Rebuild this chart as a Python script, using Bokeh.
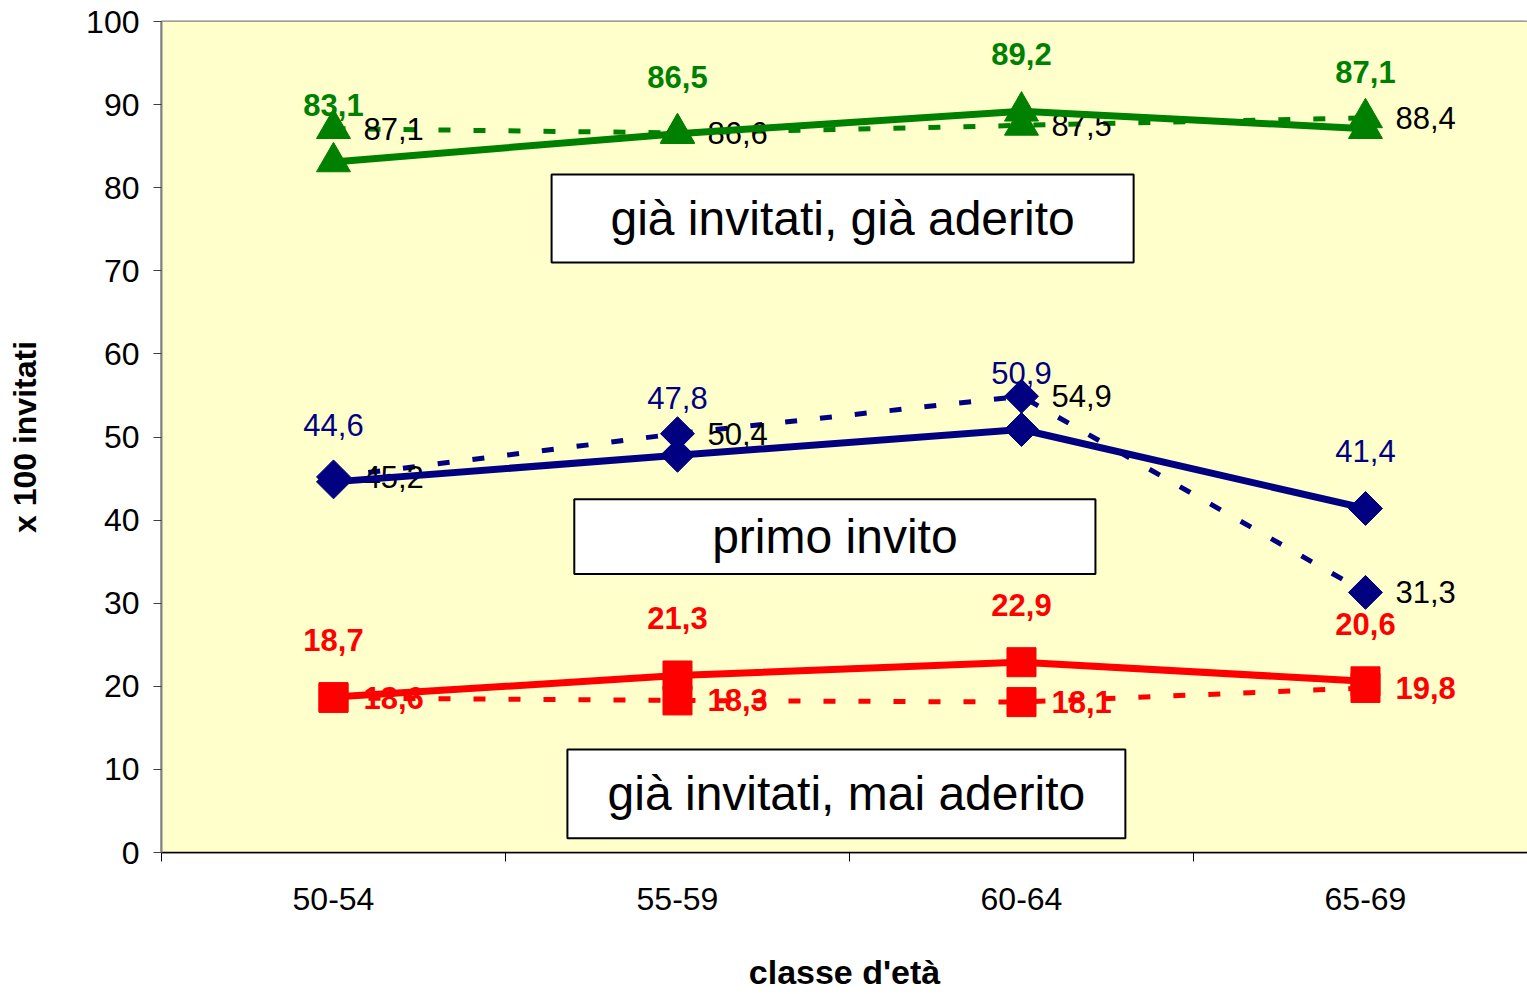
import math
from bokeh.plotting import figure
from bokeh.models import Range1d, FixedTicker, BoxAnnotation, Label, ColumnDataSource
from bokeh.core.properties import value
from bokeh.embed import file_html
from bokeh.resources import INLINE

categories = ["50-54", "55-59", "60-64", "65-69"]
green_solid = [83.1, 86.5, 89.2, 87.1]
green_dash = [87.1, 86.6, 87.5, 88.4]
blue_solid = [44.6, 47.8, 50.9, 41.4]
blue_dash = [45.2, 50.4, 54.9, 31.3]
red_solid = [18.7, 21.3, 22.9, 20.6]
red_dash = [18.6, 18.3, 18.1, 19.8]
y_ticks = [0, 10, 20, 30, 40, 50, 60, 70, 80, 90, 100]

FONT = "Liberation Sans"
GREEN = "#008000"
NAVY = "#000080"
RED = "#FF0000"

xs = list(range(len(categories)))
XMAX = 3.471

p = figure(width=1527, height=994, output_backend="svg", toolbar_location=None,
           x_range=Range1d(-0.5, XMAX), y_range=Range1d(0, 100),
           min_border_left=161, min_border_right=0, min_border_top=21, min_border_bottom=142)
p.background_fill_color = "white"
p.border_fill_color = "white"
p.outline_line_color = "#808080"
p.outline_line_width = 2

# backdrop
p.add_layout(BoxAnnotation(left=-0.5, right=XMAX, bottom=0, top=100,
                           fill_color="#FFFFCC", fill_alpha=1.0, line_color=None, level="underlay"))

p.xgrid.visible = False
p.ygrid.ticker = FixedTicker(ticks=y_ticks)
p.ygrid.grid_line_color = "black"
p.ygrid.grid_line_width = 1
p.ygrid.level = "underlay"

# axes
xa = p.xaxis[0]
xa.ticker = FixedTicker(ticks=xs, minor_ticks=[-0.5, 0.5, 1.5, 2.5])
xa.major_label_overrides = {i: c for i, c in enumerate(categories)}
xa.major_tick_line_color = None
xa.minor_tick_out = 9
xa.minor_tick_in = 0
xa.minor_tick_line_color = "black"
xa.axis_line_color = "black"
xa.axis_line_width = 1.5
xa.major_label_text_font = FONT
xa.major_label_text_font_size = "32px"
xa.major_label_text_color = "black"
xa.major_label_standoff = 26
xa.axis_label = "classe d'età"
xa.axis_label_text_font = FONT
xa.axis_label_text_font_size = "34px"
xa.axis_label_text_font_style = "bold"
xa.axis_label_text_color = "black"
xa.axis_label_standoff = 40

ya = p.yaxis[0]
ya.ticker = FixedTicker(ticks=y_ticks)
ya.axis_line_color = "#808080"
ya.axis_line_width = 2
ya.major_tick_out = 8
ya.major_tick_in = 0
ya.major_tick_line_color = "#404040"
ya.minor_tick_line_color = None
ya.major_label_text_font = FONT
ya.major_label_text_font_size = "32px"
ya.major_label_text_color = "black"
ya.major_label_standoff = 14
ya.axis_label = "x 100 invitati"
ya.axis_label_text_font = FONT
ya.axis_label_text_font_size = "32px"
ya.axis_label_text_font_style = "bold"
ya.axis_label_text_color = "black"
ya.axis_label_standoff = 40


def fmt(v):
    return f"{v:.1f}".replace(".", ",")

# annotation boxes
boxes = [
    (0.634, 2.326, 71.0, 81.6, "già invitati, già aderito"),
    (0.700, 2.215, 33.5, 42.5, "primo invito"),
    (0.680, 2.302, 1.7, 12.4, "già invitati, mai aderito"),
]
for l, r, b, t, txt in boxes:
    p.add_layout(BoxAnnotation(left=l, right=r, bottom=b, top=t, fill_color="white",
                               fill_alpha=1.0, line_color="black", line_alpha=1.0,
                               line_width=2, level="annotation"))
    p.add_layout(Label(x=(l + r) / 2, y=(b + t) / 2, text=txt, text_align="center",
                       text_baseline="middle", text_font=FONT, text_font_size="48px",
                       text_color="black", level="annotation"))

series = [
    (green_dash, GREEN, "dash", "triangle", 34, 0.0, "black", "normal"),
    (blue_dash, NAVY, "dash", "square", 24, math.pi / 4, "black", "normal"),
    (red_dash, RED, "dash", "square", 29, 0.0, RED, "bold"),
    (green_solid, GREEN, "solid", "triangle", 34, 0.0, GREEN, "bold"),
    (blue_solid, NAVY, "solid", "square", 24, math.pi / 4, NAVY, "normal"),
    (red_solid, RED, "solid", "square", 29, 0.0, RED, "bold"),
]

for vals, col, style, marker, size, ang, lcol, lstyle in series:
    src = ColumnDataSource(dict(x=xs, y=vals, t=[fmt(v) for v in vals]))
    if style == "dash":
        p.line("x", "y", source=src, line_color=col, line_width=5, line_dash="12 23")
    else:
        p.line("x", "y", source=src, line_color=col, line_width=7)
    p.scatter("x", "y", source=src, marker=marker, size=size, angle=ang,
              fill_color=col, line_color=col)
    if style == "dash":
        p.text("x", "y", text="t", source=src, x_offset=30, text_align="left",
               text_baseline="middle", text_font=value(FONT), text_font_size="31px",
               text_color=lcol, text_font_style=lstyle)
    else:
        p.text("x", "y", text="t", source=src, y_offset=-57, text_align="center",
               text_baseline="middle", text_font=value(FONT), text_font_size="31px",
               text_color=lcol, text_font_style=lstyle)

open("out.html", "w").write(file_html(p, INLINE))
